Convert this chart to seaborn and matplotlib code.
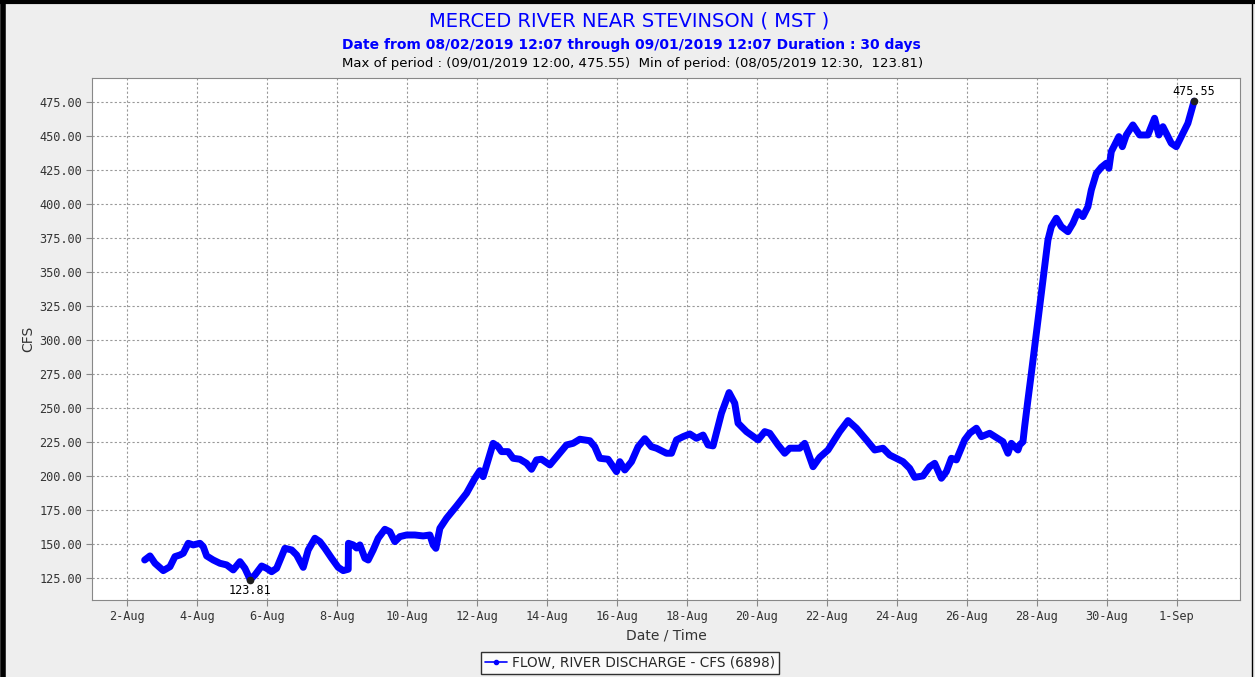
import pandas as pd
import numpy as np
import matplotlib
matplotlib.use("Agg")
import matplotlib.pyplot as plt
from matplotlib.lines import Line2D
from matplotlib.ticker import FuncFormatter, FixedLocator
import matplotlib.dates as mdates
import seaborn as sns

# Data (days after 2019-08-02 00:00, flow in CFS)
START = pd.Timestamp("2019-08-02 00:00")
days = [0.505, 0.657, 0.80, 1.037, 1.229, 1.371, 1.514, 1.609, 1.751, 1.894,
        2.086, 2.18, 2.277, 2.466, 2.657, 2.849, 3.037, 3.229, 3.371, 3.521,
        3.657, 3.849, 3.991, 4.134, 4.277, 4.514, 4.706, 4.849, 5.037, 5.18,
        5.371, 5.514, 5.657, 5.849, 6.037, 6.18, 6.323, 6.33, 6.466, 6.563,
        6.657, 6.80, 6.894, 7.037, 7.18, 7.371, 7.514, 7.657, 7.80, 7.991,
        8.229, 8.466, 8.657, 8.751, 8.829, 8.943, 9.134, 9.42, 9.706, 9.943,
        10.086, 10.18, 10.323, 10.466, 10.609, 10.706, 10.894, 11.037, 11.229, 11.42,
        11.563, 11.706, 11.849, 12.086, 12.323, 12.563, 12.751, 12.943, 13.229, 13.371,
        13.514, 13.751, 13.894, 13.991, 14.086, 14.229, 14.42, 14.609, 14.80, 14.991,
        15.134, 15.42, 15.563, 15.706, 15.894, 16.086, 16.277, 16.466, 16.609, 16.751,
        16.991, 17.209, 17.371, 17.466, 17.706, 18.037, 18.229, 18.371, 18.609, 18.80,
        18.943, 19.229, 19.371, 19.609, 19.80, 20.037, 20.371, 20.609, 20.849, 21.134,
        21.371, 21.609, 21.80, 22.18, 22.371, 22.514, 22.751, 22.943, 23.086, 23.277,
        23.42, 23.563, 23.706, 23.943, 24.086, 24.277, 24.42, 24.657, 25.037, 25.18,
        25.277, 25.466, 25.514, 25.609, 25.657, 25.751, 25.849, 25.943, 26.037, 26.134,
        26.229, 26.323, 26.42, 26.563, 26.706, 26.894, 27.037, 27.18, 27.323, 27.466,
        27.563, 27.706, 27.849, 27.991, 28.066, 28.134, 28.277, 28.351, 28.449, 28.563,
        28.751, 28.943, 29.18, 29.371, 29.494, 29.609, 29.849, 29.991, 30.134, 30.323,
        30.50]
flow = [138.2, 141.2, 135.8, 130.4, 133.3, 140.7, 141.9, 143.2, 150.5, 149.3,
        150.5, 148.0, 141.2, 138.2, 135.8, 134.6, 130.9, 137.0, 132.1, 123.81,
        127.2, 133.8, 132.1, 129.6, 132.1, 146.8, 145.6, 141.9, 132.8, 145.6,
        154.2, 151.7, 146.8, 139.5, 132.8, 130.4, 131.4, 150.5, 149.3, 147.0,
        149.3, 139.5, 138.2, 145.6, 154.2, 160.8, 159.0, 151.7, 155.4, 156.6,
        156.6, 155.9, 156.6, 149.3, 146.8, 161.5, 168.9, 177.9, 187.3, 198.3,
        203.9, 199.5, 211.8, 224.0, 221.5, 217.9, 217.9, 213.0, 212.3, 209.3,
        204.9, 211.8, 212.3, 208.1, 215.4, 222.8, 224.0, 227.0, 225.9, 221.5,
        213.0, 212.3, 206.8, 203.2, 210.5, 204.4, 210.5, 221.5, 227.4, 221.5,
        220.4, 216.7, 216.7, 226.5, 228.9, 230.9, 227.7, 230.1, 222.8, 222.1,
        246.1, 261.3, 253.5, 238.8, 232.6, 226.5, 232.6, 231.4, 222.8, 216.7,
        220.4, 220.4, 224.0, 206.8, 213.7, 219.1, 232.6, 240.7, 235.1, 226.5,
        219.1, 220.4, 215.4, 210.5, 205.6, 199.0, 200.0, 206.8, 209.3, 198.3,
        203.2, 213.0, 211.8, 226.5, 231.4, 235.1, 228.9, 231.4, 225.2, 216.7,
        224.0, 219.1, 222.8, 225.2, 236.3, 255.9, 275.5, 295.1, 314.7, 334.3,
        353.9, 373.5, 383.3, 389.5, 383.3, 379.6, 385.8, 394.3, 390.7, 398.0,
        410.3, 422.5, 426.9, 429.9, 426.2, 438.5, 445.8, 449.5, 442.1, 450.7,
        458.1, 450.7, 450.7, 463.0, 450.7, 456.8, 444.6, 442.1, 449.5, 459.3,
        475.55]

y_ticks = [125, 150, 175, 200, 225, 250, 275, 300, 325, 350, 375, 400, 425, 450, 475]
x_ticks = pd.date_range("2019-08-02", "2019-09-01", freq="2D")

min_time, min_val = pd.Timestamp("2019-08-05 12:30"), 123.81
max_time, max_val = pd.Timestamp("2019-09-01 12:00"), 475.55

title = "MERCED RIVER NEAR STEVINSON ( MST )"
subtitle = "Date from 08/02/2019 12:07 through 09/01/2019 12:07 Duration : 30 days"
stats_line = "Max of period : (09/01/2019 12:00, 475.55)  Min of period: (08/05/2019 12:30,  123.81)"
legend_label = "FLOW, RIVER DISCHARGE - CFS (6898)"

df = pd.DataFrame({"time": START + pd.to_timedelta(days, unit="D"), "cfs": flow})

sns.set_style("white")
plt.rcParams["font.family"] = ["DejaVu Sans"]

fig = plt.figure(figsize=(12.55, 6.77), dpi=100, facecolor="#EEEEEE")
ax = fig.add_axes([92 / 1255, 1 - 600 / 677, (1240 - 92) / 1255, (600 - 78) / 677])
ax.set_facecolor("white")

sns.lineplot(data=df, x="time", y="cfs", ax=ax, color="#0000FF", linewidth=5.0,
             solid_capstyle="round", solid_joinstyle="round", legend=False)

# min / max markers and labels
ax.plot([min_time, max_time], [min_val, max_val], linestyle="none", marker="o",
        markersize=4.5, color="#202020", zorder=5)
mono = "DejaVu Sans Mono"
ax.annotate(f"{min_val:.2f}", (min_time, min_val), xytext=(0, -3), textcoords="offset points",
            ha="center", va="top", fontsize=8.5, family=mono, color="black")
ax.annotate(f"{max_val:.2f}", (max_time, max_val), xytext=(0, 2), textcoords="offset points",
            ha="center", va="bottom", fontsize=8.5, family=mono, color="black")

ax.set_xlim(pd.Timestamp("2019-08-01 00:00"), pd.Timestamp("2019-09-02 19:30"))
ax.set_ylim(108.8, 492.6)
ax.yaxis.set_major_locator(FixedLocator(y_ticks))
ax.yaxis.set_major_formatter(FuncFormatter(lambda v, p: f"{v:.2f}"))
ax.xaxis.set_major_locator(FixedLocator(mdates.date2num(x_ticks)))
ax.xaxis.set_major_formatter(FuncFormatter(
    lambda v, p: f"{mdates.num2date(v).day}-{mdates.num2date(v):%b}"))

for lab in ax.get_xticklabels() + ax.get_yticklabels():
    lab.set_family(mono)
    lab.set_fontsize(8.6)
    lab.set_color("#333333")
ax.tick_params(axis="both", direction="out", length=4, width=0.8, color="#888888", pad=3,
               bottom=True, left=True)

ax.grid(True, linestyle=(0, (2, 2)), color="#999999", linewidth=0.8)
for s in ax.spines.values():
    s.set_color("#888888")
    s.set_linewidth(0.8)

ax.set_xlabel("Date / Time", fontsize=10, color="#333333", labelpad=4)
ax.set_ylabel("CFS", fontsize=10, color="#333333", labelpad=3)

fig.text(0.501, 1 - 21 / 677, title, ha="center", va="center", fontsize=14, color="#0000FF")
fig.text(0.503, 1 - 45 / 677, subtitle, ha="center", va="center", fontsize=10,
         fontweight="bold", color="#0000FF")
fig.text(0.504, 1 - 63 / 677, stats_line, ha="center", va="center", fontsize=9.5, color="black")

handle = Line2D([], [], color="#0000FF", marker="o", markersize=3, linewidth=1.2)
leg = fig.legend([handle], [legend_label], loc="upper center",
                 bbox_to_anchor=(630 / 1255, 1 - 652 / 677), fontsize=9.8, frameon=True,
                 fancybox=False, handlelength=1.6, borderpad=0.3, handletextpad=0.4,
                 borderaxespad=0)
leg.get_frame().set_edgecolor("black")
leg.get_frame().set_linewidth(1.0)
leg.get_frame().set_facecolor("white")

# outer border of the chart panel
fig.add_artist(Line2D([0.002, 0.002], [0, 1], transform=fig.transFigure, color="black", linewidth=4))
fig.add_artist(Line2D([0, 1], [0.997, 0.997], transform=fig.transFigure, color="black", linewidth=3))
fig.add_artist(Line2D([0.998, 0.998], [0, 1], transform=fig.transFigure, color="black", linewidth=1))

fig.savefig("out.png", dpi=100, facecolor=fig.get_facecolor())
